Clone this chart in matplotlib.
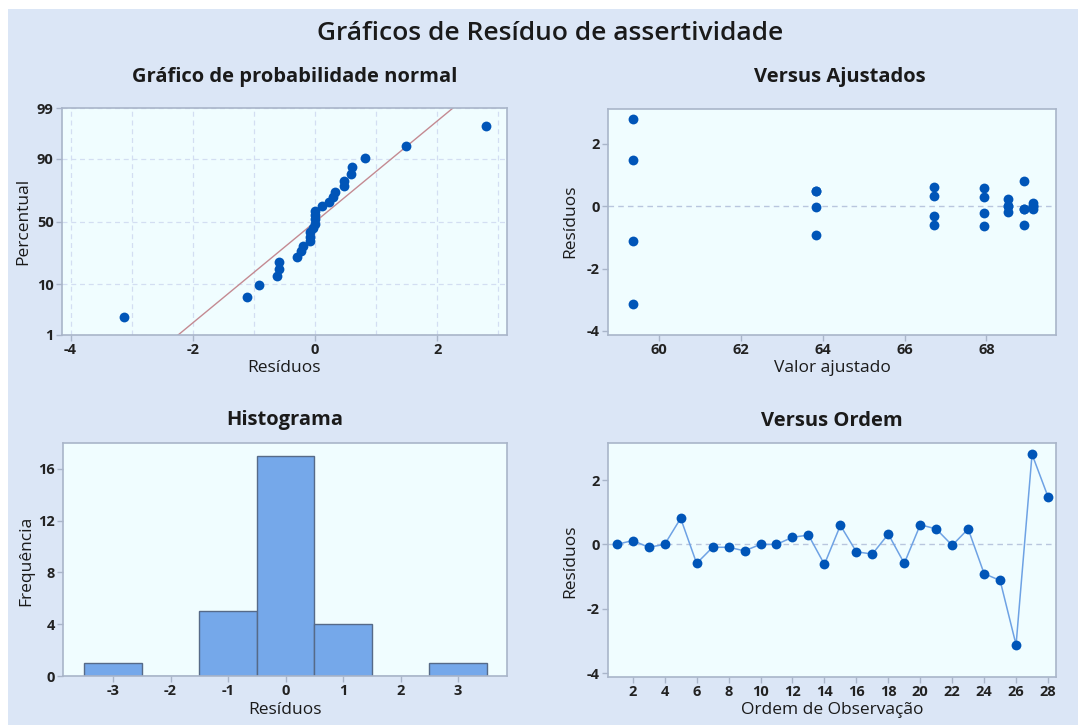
import numpy as np
import matplotlib
matplotlib.use("Agg")
from matplotlib import pyplot as plt
from matplotlib.patches import Rectangle
from statistics import NormalDist

order = list(range(1, 29))
residuals = [0.0, 0.12, -0.09, 0.0, 0.81, -0.59, -0.09, -0.09, -0.2, 0.0,
             0.0, 0.22, 0.29, -0.62, 0.59, -0.23, -0.3, 0.32, -0.59, 0.61,
             0.48, -0.03, 0.48, -0.91, -1.12, -3.12, 2.80, 1.48]
# fitted values, same order
fitted = [69.14]*4 + [68.92]*4 + [68.53]*4 + [67.94]*4 + [66.72]*4 + [63.83]*4 + [59.35]*4

pct_ticks = [1, 10, 50, 90, 99]
hist_edges = [-3.5, -2.5, -1.5, -0.5, 0.5, 1.5, 2.5, 3.5]

#Color setup
COLOR_BG = "#dbe6f6"
COLOR_AX = "#f0fdff"
COLOR_PT = "#0055b8"
COLOR_BAR = "#75a8ea"
COLOR_BAR_EDGE = "#566a88"
COLOR_SPINE = "#a9b5c9"
COLOR_REF = "#b9c6de"
COLOR_TXT = "#1a1a1a"

W, H = 1078, 725
plt.rcParams['font.family'] = ['Open Sans', 'DejaVu Sans']
plt.rcParams['axes.unicode_minus'] = False

fig = plt.figure(figsize=(W/100, H/100), dpi=100)
fig.patch.set_facecolor("white")
fig.patches.append(Rectangle((8/W, 0), 1, 1 - 9/H, transform=fig.transFigure,
                             facecolor=COLOR_BG, edgecolor="none", zorder=-10))


def px(x, y):
    return x / W, 1 - y / H


def make_ax(x0, y0, x1, y1):
    ax = fig.add_axes([x0/W, 1 - y1/H, (x1-x0)/W, (y1-y0)/H])
    ax.set_facecolor(COLOR_AX)
    for s in ax.spines.values():
        s.set_color(COLOR_SPINE)
        s.set_linewidth(1.2)
    ax.tick_params(direction="out", length=4, width=1, color=COLOR_SPINE,
                   labelsize=10.5, labelcolor="#222222", pad=2)
    return ax


def fix_ticklabels(ax):
    for lab in ax.get_xticklabels() + ax.get_yticklabels():
        lab.set_fontweight("bold")


def text(x, y, s, size, weight="normal", rot=0):
    fig.text(*px(x, y), s, fontsize=size, fontweight=weight, rotation=rot,
             ha="center", va="center", color=COLOR_TXT)


text(550, 33, "Gráficos de Resíduo de assertividade", 19, "semibold")

# ---- normal probability plot
ax1 = make_ax(62, 108, 507, 335)
nd = NormalDist()
res_sorted = np.sort(residuals)
n = len(res_sorted)
z_pts = [nd.inv_cdf((i - 0.3) / (n + 0.4)) for i in range(1, n + 1)]
mu = np.mean(residuals)
sd = np.std(residuals, ddof=1)
xline = np.array([-4.14, 3.14])
ax1.plot(xline, (xline - mu) / sd, color="#c48a92", lw=1, zorder=2)
ax1.scatter(res_sorted, z_pts, s=50, color=COLOR_PT, zorder=3, linewidths=0)
ax1.set_xlim(-4.14, 3.14)
ax1.set_ylim(nd.inv_cdf(0.01), nd.inv_cdf(0.99))
ax1.set_xticks([-4, -2, 0, 2])
ax1.set_xticks([-3, -1, 1, 3], minor=True)
ax1.tick_params(which="minor", length=0)
ax1.set_yticks([nd.inv_cdf(p / 100) for p in pct_ticks])
ax1.set_yticklabels([str(p) for p in pct_ticks])
ax1.grid(True, which="both", ls=(0, (4, 3)), color="#d3def2", lw=0.9)
ax1.set_axisbelow(True)
fix_ticklabels(ax1)
text(295, 77, "Gráfico de probabilidade normal", 14.5, "bold")
text(284, 368, "Resíduos", 12.5)
text(23, 221, "Percentual", 12.5, rot=90)

# ---- versus fits
ax2 = make_ax(608, 109, 1056, 335)
ax2.axhline(0, color=COLOR_REF, ls=(0, (4, 3)), lw=1, zorder=1)
ax2.scatter(fitted, residuals, s=50, color=COLOR_PT, zorder=3, linewidths=0)
ax2.set_xlim(58.75, 69.7)
ax2.set_ylim(-4.13, 3.12)
ax2.set_xticks([60, 62, 64, 66, 68])
ax2.set_yticks([-4, -2, 0, 2])
fix_ticklabels(ax2)
text(840, 77, "Versus Ajustados", 14.5, "bold")
text(832, 368, "Valor ajustado", 12.5)
text(570, 221, "Resíduos", 12.5, rot=90)

# ---- histogram
ax3 = make_ax(63, 443, 507, 676)
ax3.hist(residuals, bins=hist_edges, color=COLOR_BAR, edgecolor=COLOR_BAR_EDGE,
         linewidth=1, zorder=2)
ax3.set_xlim(-3.87, 3.85)
ax3.set_ylim(0, 18)
ax3.set_xticks([-3, -2, -1, 0, 1, 2, 3])
ax3.set_yticks([0, 4, 8, 12, 16])
fix_ticklabels(ax3)
text(285, 420, "Histograma", 14.5, "bold")
text(285, 710, "Resíduos", 12.5)
text(26, 561, "Frequência", 12.5, rot=90)

# ---- versus order
ax4 = make_ax(608, 443, 1056, 677)
ax4.axhline(0, color=COLOR_REF, ls=(0, (4, 3)), lw=1, zorder=1)
ax4.plot(order, residuals, color="#6ea2e4", lw=1.1, zorder=2)
ax4.scatter(order, residuals, s=50, color=COLOR_PT, zorder=3, linewidths=0)
ax4.set_xlim(0.45, 28.5)
ax4.set_ylim(-4.12, 3.15)
ax4.set_xticks(list(range(2, 29, 2)))
ax4.set_yticks([-4, -2, 0, 2])
fix_ticklabels(ax4)
text(832, 421, "Versus Ordem", 14.5, "bold")
text(832, 710, "Ordem de Observação", 12.5)
text(570, 561, "Resíduos", 12.5, rot=90)

fig.savefig("out.png", dpi=100)
